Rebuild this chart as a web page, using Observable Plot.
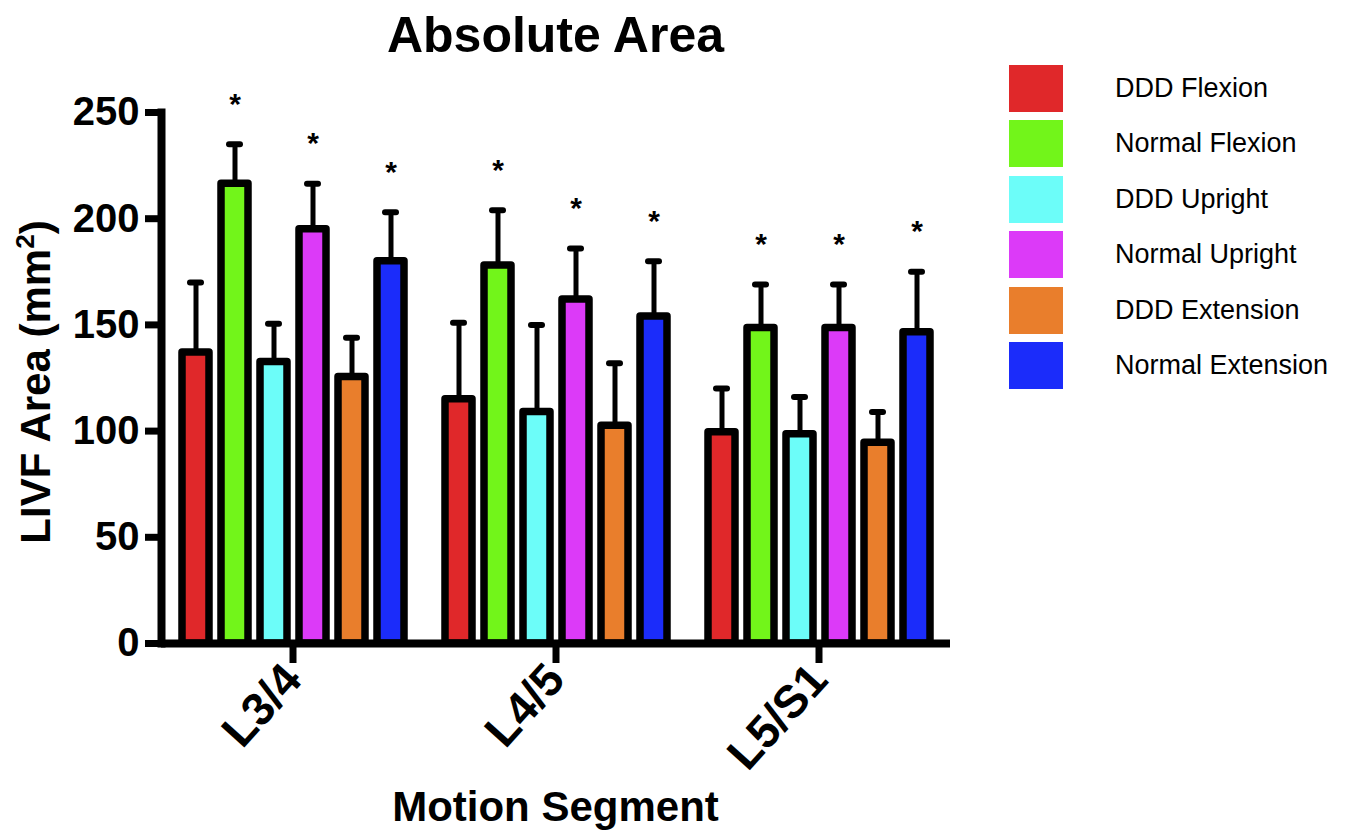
<!DOCTYPE html>
<html><head><meta charset="utf-8">
<script src="https://cdn.jsdelivr.net/npm/d3@7"></script>
<script src="https://cdn.jsdelivr.net/npm/@observablehq/plot@0.6"></script>
<style>
body{margin:0;background:#fff;font-family:"Liberation Sans",Arial,Helvetica,sans-serif;color:#000;}
#wrap{position:relative;width:1356px;height:840px;overflow:hidden;background:#fff;}
#chart{position:absolute;left:0;top:0;}
#title{position:absolute;left:161px;width:789px;top:10px;text-align:center;font-weight:bold;font-size:50px;line-height:50px;white-space:nowrap;}
#xlabel{position:absolute;left:161px;width:789px;top:786px;text-align:center;font-weight:bold;font-size:42px;line-height:42px;white-space:nowrap;}
#ylabel{position:absolute;left:-164px;width:400px;top:361px;text-align:center;font-weight:bold;font-size:42px;line-height:42px;white-space:nowrap;transform:rotate(-90deg);transform-origin:50% 50%;}
#ylabel sup{font-size:26px;line-height:0;vertical-align:0;position:relative;top:-16px;}
.lg-row{position:absolute;left:1009px;height:47px;width:347px;}
.lg-sw{position:absolute;left:0;top:0;width:54px;height:47px;}
.lg-tx{position:absolute;left:106px;top:0;height:47px;line-height:47px;font-size:27px;white-space:nowrap;}
</style></head><body>
<div id="wrap">
  <div id="chart"></div>
  <div id="title">Absolute Area</div>
  <div id="ylabel">LIVF Area (mm<sup>2</sup>)</div>
  <div id="xlabel">Motion Segment</div>
  <div id="legend"></div>
</div>
<script>
// ---- data ----
const segments = ["L3/4", "L4/5", "L5/S1"];
const series = ["DDD Flexion", "Normal Flexion", "DDD Upright", "Normal Upright", "DDD Extension", "Normal Extension"];
const colors = ["#E0282A", "#72F51A", "#6CFDF9", "#DC3AF8", "#E97E2C", "#1B2CFA"];
const meanL34  = [137, 216.5, 132.5, 195, 125.5, 180];
const meanL45  = [115, 178, 109, 162, 102.5, 154];
const meanL5S1 = [99.5, 148.5, 98.5, 148.5, 94.5, 146.5];
const upperL34  = [170, 235, 150.5, 216.5, 144, 203];
const upperL45  = [151, 204, 150, 186, 132, 180];
const upperL5S1 = [120, 169, 116, 169, 109, 175];
const significant = [false, true, false, true, false, true];
const yTicks = [0, 50, 100, 150, 200, 250];

const means = [meanL34, meanL45, meanL5S1];
const uppers = [upperL34, upperL45, upperL5S1];
const data = [];
segments.forEach((seg, si) => {
  series.forEach((s, k) => data.push({segment: seg, series: s, mean: means[si][k], upper: uppers[si][k], sig: significant[k]}));
});

const font = "Liberation Sans, Arial, Helvetica, sans-serif";
const chart = Plot.plot({
  width: 1356, height: 840,
  marginLeft: 161, marginRight: 406, marginTop: 112, marginBottom: 197,
  style: {fontFamily: font, background: "transparent", color: "black"},
  fx: {domain: segments, padding: 0, label: null},
  x: {domain: series, paddingInner: 0.32, paddingOuter: 0.485, axis: null},
  y: {domain: [0, 250], label: null, axis: null},
  color: {domain: series, range: colors},
  marks: [
    Plot.ruleX(data, {fx: "segment", x: "series", y1: "mean", y2: "upper", stroke: "black", strokeWidth: 5}),
    Plot.tickY(data, {fx: "segment", x: "series", y: "upper", stroke: "black", strokeWidth: 6, strokeLinecap: "round", inset: 8}),
    Plot.barY(data, {fx: "segment", x: "series", y: "mean", fill: "series", stroke: "black", strokeWidth: 7.5, strokeLinejoin: "round"}),
    Plot.text(data.filter(d => d.sig), {fx: "segment", x: "series", y: "upper", text: () => "*", dy: -40, fontSize: 30, fontWeight: "bold", fill: "black"}),
    Plot.ruleY([0], {stroke: "black", strokeWidth: 8}),
    Plot.frame({anchor: "left", facetAnchor: "left", stroke: "black", strokeWidth: 8}),
    Plot.axisY({ticks: yTicks, tickSize: 16, tickPadding: 6, strokeWidth: 7, fontSize: 40, fontWeight: "bold", label: null}),
    Plot.axisFx({anchor: "bottom", tickSize: 20, tickRotate: -48, strokeWidth: 7, fontSize: 46, fontWeight: "bold", label: null, tickPadding: 8})
  ]
});
document.getElementById("chart").appendChild(chart);

// ---- legend ----
const legend = document.getElementById("legend");
series.forEach((s, i) => {
  const row = document.createElement("div");
  row.className = "lg-row";
  row.style.top = (65 + i * 55.4) + "px";
  const sw = document.createElement("div");
  sw.className = "lg-sw";
  sw.style.background = colors[i];
  const tx = document.createElement("div");
  tx.className = "lg-tx";
  tx.textContent = s;
  row.appendChild(sw); row.appendChild(tx);
  legend.appendChild(row);
});
</script>
</body></html>
